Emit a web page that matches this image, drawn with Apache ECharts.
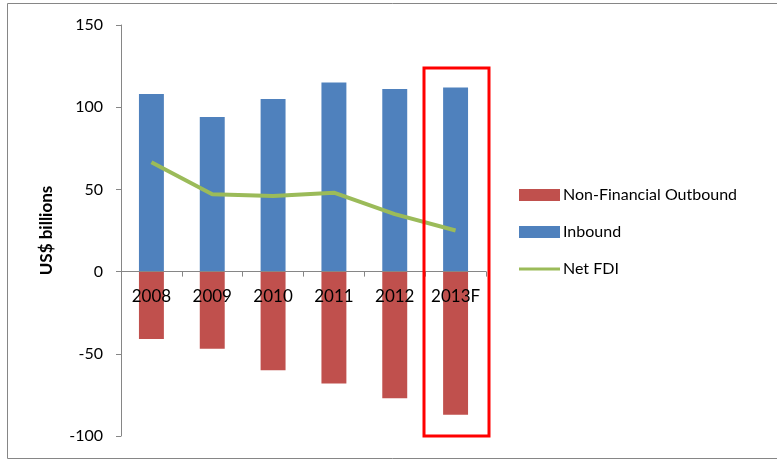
<!DOCTYPE html>
<html>
<head>
<meta charset="utf-8">
<script src="https://cdn.jsdelivr.net/npm/echarts@6/dist/echarts.min.js"></script>
<style>
  html, body { margin: 0; padding: 0; background: #ffffff; }
  #chart { width: 777px; height: 460px; }
</style>
</head>
<body>
<div id="chart"></div>
<script>
  // data
  var years = ['2008', '2009', '2010', '2011', '2012', '2013F'];
  var outbound = [-41, -47, -60, -68, -77, -87];
  var inbound = [108, 94, 105, 115, 111, 112];
  var netFdi = [66.5, 47, 46, 48, 35, 25];
  var yTicks = [-100, 150, 50];

  var font = 'Lato, "Open Sans", sans-serif';
  var chart = echarts.init(document.getElementById('chart'));

  // grid box in px, x axis sits on the zero line
  var gridTop = 25, gridBottom = 24;
  var plotH = 460 - gridTop - gridBottom;
  var zeroOffset = plotH * (0 - yTicks[0]) / (yTicks[1] - yTicks[0]);

  chart.setOption({
    animation: false,
    color: ['#C0504D', '#4F81BD', '#9BBB59'],
    grid: { left: 121, right: 291, top: gridTop, bottom: gridBottom, outerBoundsMode: 'none', containLabel: false },
    legend: {
      orient: 'vertical',
      left: 514,
      top: 182,
      itemWidth: 41,
      itemHeight: 12,
      itemGap: 21,
      data: [
        { name: 'Non-Financial Outbound', icon: 'rect' },
        { name: 'Inbound', icon: 'rect' },
        { name: 'Net FDI', icon: 'path://M0,5 L40,5 L40,8 L0,8 Z' }
      ],
      textStyle: { fontFamily: font, fontSize: 16, color: '#000000', padding: [0, 0, 0, -2] }
    },
    xAxis: {
      type: 'category',
      data: years,
      position: 'bottom',
      offset: -zeroOffset,
      z: 4,
      axisLine: { onZero: false, lineStyle: { color: '#868686', width: 1 } },
      axisTick: { show: true, length: 5, lineStyle: { color: '#868686' } },
      axisLabel: { interval: 0, hideOverlap: false, fontFamily: font, fontSize: 17, color: '#000000', margin: 16 },
      splitLine: { show: false }
    },
    yAxis: {
      type: 'value',
      min: yTicks[0],
      max: yTicks[1],
      interval: yTicks[2],
      name: 'US$ billions',
      nameLocation: 'middle',
      nameGap: 66,
      nameTextStyle: { fontFamily: font, fontSize: 17, fontWeight: 'bold', color: '#000000' },
      axisLine: { show: true, lineStyle: { color: '#868686', width: 1 } },
      axisTick: { show: true, length: 5, lineStyle: { color: '#868686' } },
      axisLabel: { fontFamily: font, fontSize: 16, color: '#000000', margin: 18 },
      splitLine: { show: false }
    },
    series: [
      {
        name: 'Non-Financial Outbound',
        type: 'bar',
        stack: 'fdi',
        barWidth: '41%',
        data: outbound
      },
      {
        name: 'Inbound',
        type: 'bar',
        stack: 'fdi',
        barWidth: '41%',
        data: inbound
      },
      {
        name: 'Net FDI',
        type: 'line',
        symbol: 'none',
        lineStyle: { width: 4, color: '#9BBB59' },
        data: netFdi,
        z: 5
      }
    ],
    graphic: [
      {
        type: 'rect',
        shape: { x: 7.5, y: 3.5, width: 800, height: 455 },
        style: { fill: 'none', stroke: '#868686', lineWidth: 1 },
        silent: true
      },
      {
        type: 'rect',
        shape: { x: 424, y: 68, width: 65, height: 368 },
        style: { fill: 'none', stroke: '#FF0000', lineWidth: 3 },
        z: 10,
        silent: true
      }
    ]
  });
</script>
</body>
</html>
